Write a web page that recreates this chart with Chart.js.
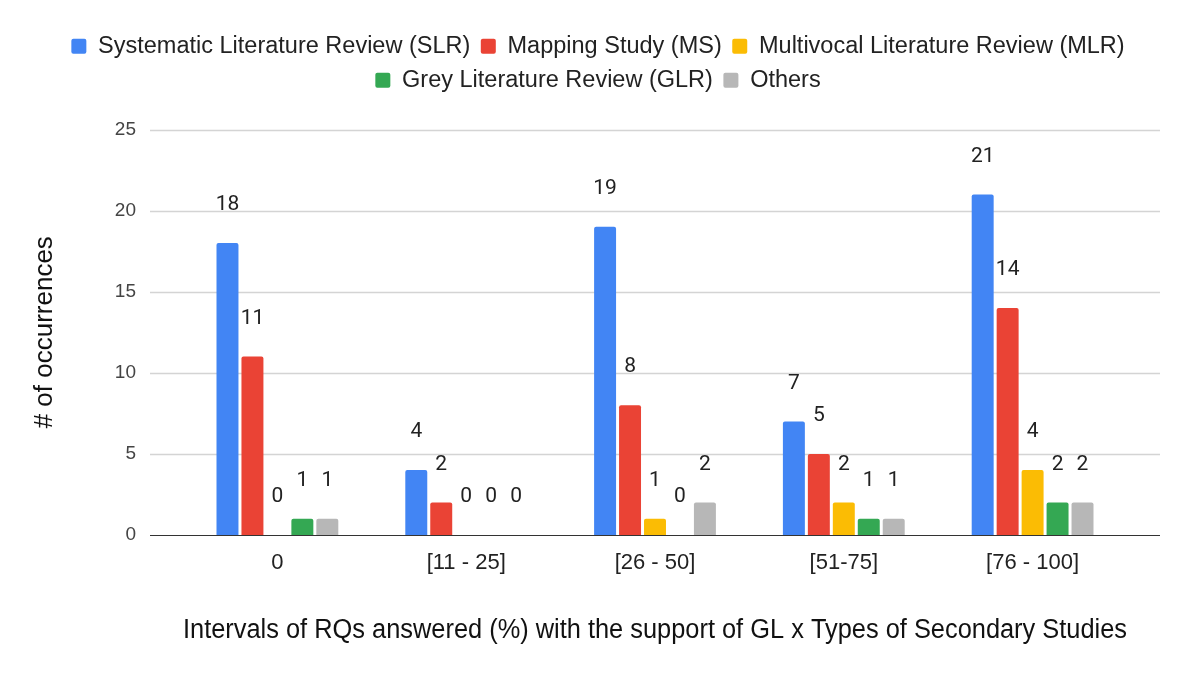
<!DOCTYPE html>
<html><head><meta charset="utf-8">
<script src="https://cdn.jsdelivr.net/npm/chart.js@4/dist/chart.umd.min.js"></script>
<style>html,body{margin:0;padding:0;background:#fff}</style>
</head><body>
<canvas id="c" width="1196" height="678"></canvas>
<script>
const categories = ["0", "[11 - 25]", "[26 - 50]", "[51-75]", "[76 - 100]"];
const seriesNames = ["Systematic Literature Review (SLR)", "Mapping Study (MS)", "Multivocal Literature Review (MLR)", "Grey Literature Review (GLR)", "Others"];
const slrValues = [18, 4, 19, 7, 21];
const msValues = [11, 2, 8, 5, 14];
const mlrValues = [0, 0, 1, 2, 4];
const glrValues = [1, 0, 0, 1, 2];
const othersValues = [1, 0, 2, 1, 2];
const yTickValues = [0, 5, 10, 15, 20, 25];
const seriesColors = ["#4285F4", "#EA4335", "#FBBC04", "#34A853", "#B7B7B7"];

const allSeries = [slrValues, msValues, mlrValues, glrValues, othersValues];
const ARIAL = '"Liberation Sans", Arial, sans-serif';

const gridPlugin = {
  id: 'extGrid',
  beforeDatasetsDraw(chart) {
    const ctx = chart.ctx, y = chart.scales.y;
    ctx.save();
    yTickValues.forEach(v => {
      const py = Math.round(y.getPixelForValue(v)) + 0.5;
      ctx.beginPath();
      ctx.strokeStyle = v === 0 ? '#333333' : '#d4d4d4';
      ctx.lineWidth = v === 0 ? 1.2 : 1.5;
      ctx.moveTo(150, py);
      ctx.lineTo(1160, py);
      ctx.stroke();
    });
    ctx.restore();
  }
};

const labelPlugin = {
  id: 'valLabels',
  afterDatasetsDraw(chart) {
    const ctx = chart.ctx;
    ctx.save();
    ctx.font = '21px Roboto';
    ctx.fillStyle = '#222222';
    ctx.textAlign = 'center';
    ctx.textBaseline = 'middle';
    chart.data.datasets.forEach((ds, i) => {
      chart.getDatasetMeta(i).data.forEach((bar, j) => {
        ctx.fillText(String(ds.data[j]), bar.x, bar.y - 38);
      });
    });
    ctx.restore();
  }
};

new Chart(document.getElementById('c'), {
  type: 'bar',
  data: {
    labels: categories,
    datasets: allSeries.map((vals, i) => ({
      label: seriesNames[i],
      data: vals,
      backgroundColor: seriesColors[i],
      borderRadius: 2,
      categoryPercentage: 0.661,
      barPercentage: 0.88
    }))
  },
  options: {
    responsive: false,
    devicePixelRatio: 1,
    animation: false,
    layout: { padding: { top: 24, left: 0, right: 0, bottom: 20 } },
    plugins: {
      legend: {
        position: 'top',
        labels: {
          boxWidth: 15, boxHeight: 15, padding: 10.5,
          useBorderRadius: true, borderRadius: 2,
          color: '#222222',
          font: { family: ARIAL, size: 23.5 }
        }
      },
      title: {
        display: true, text: ' ', weight: 0,
        font: { size: 1, lineHeight: 1 },
        padding: { top: 26.5, bottom: 0 }
      },
      subtitle: {
        display: true, text: ' ', position: 'right', fullSize: false,
        font: { size: 1, lineHeight: 1 },
        padding: { top: 68, bottom: 0 }
      },
      tooltip: { enabled: false }
    },
    scales: {
      x: {
        grid: { display: false, drawTicks: false },
        border: { display: false },
        ticks: { color: '#222222', padding: 15, font: { family: ARIAL, size: 22 } },
        title: {
          display: true,
          text: 'Intervals of RQs answered (%) with the support of GL x Types of Secondary Studies',
          color: '#111111',
          font: { family: ARIAL, size: 27 },
          padding: { top: 0, bottom: 11 }
        },
        afterFit(scale) { scale.height = 123; }
      },
      y: {
        min: 0, max: 25,
        grid: { display: false, drawTicks: false },
        border: { display: false },
        ticks: { stepSize: 5, color: '#444444', padding: 47, font: { family: ARIAL, size: 19 } },
        title: {
          display: true,
          text: '# of occurrences',
          color: '#111111',
          font: { family: ARIAL, size: 26 },
          padding: { top: 29, bottom: 0 }
        },
        afterFit(scale) { scale.width = 183; }
      }
    }
  },
  plugins: [gridPlugin, labelPlugin]
});
</script>
</body></html>
